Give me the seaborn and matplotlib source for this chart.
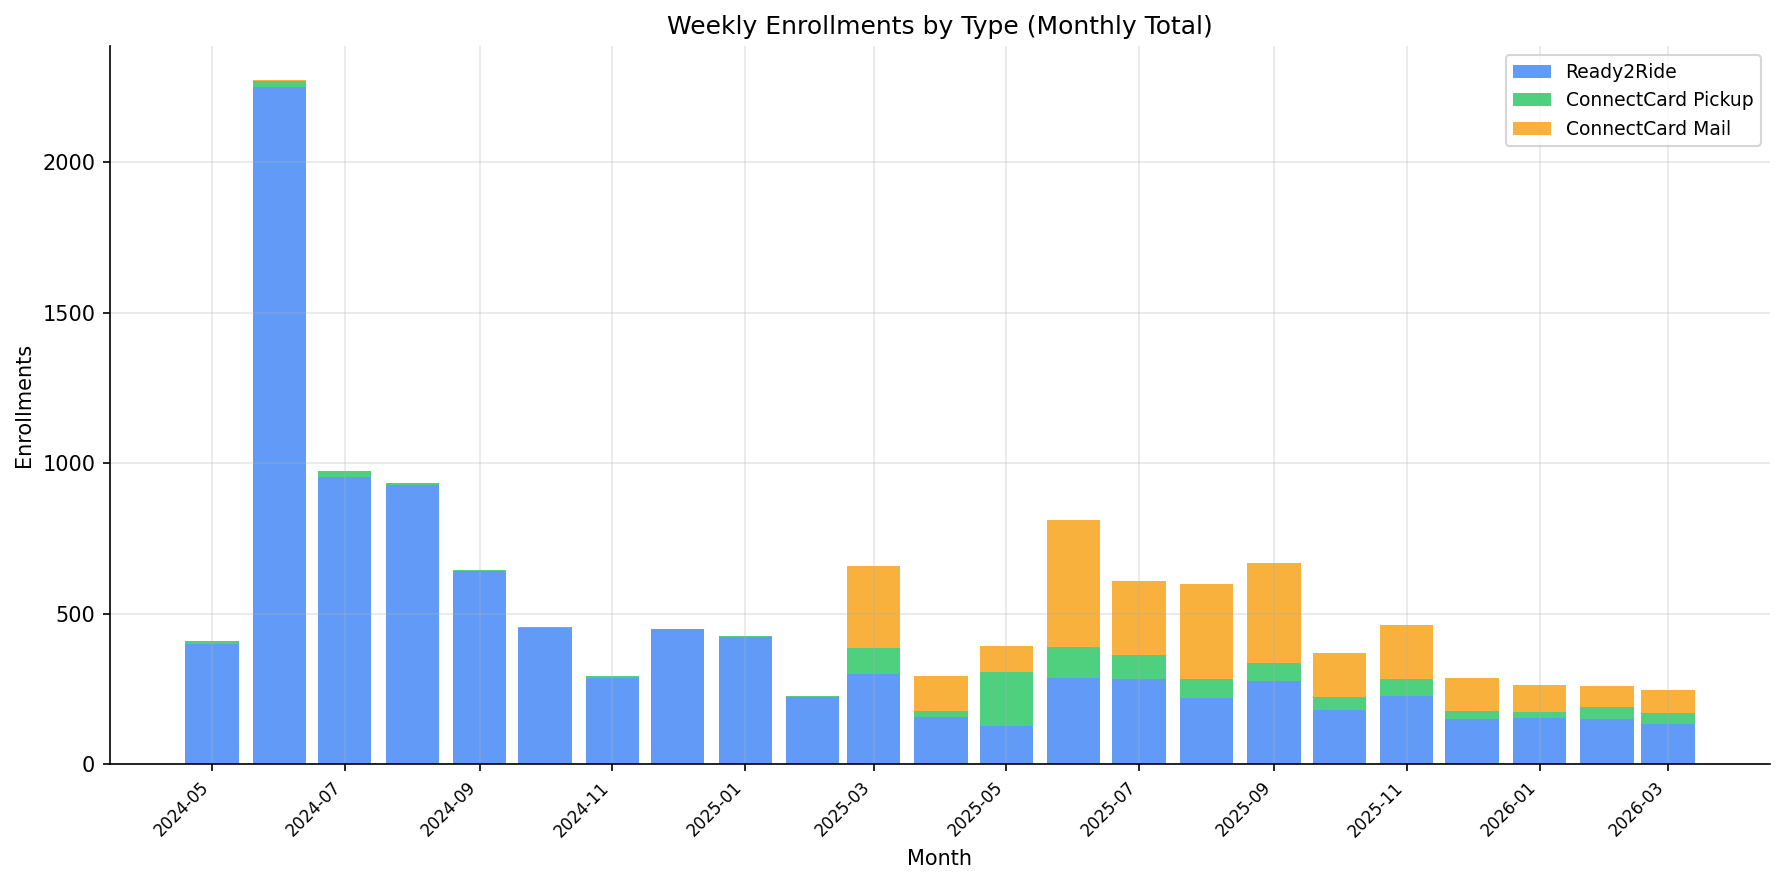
import pandas as pd
import seaborn as sns
import matplotlib
matplotlib.use("Agg")
import matplotlib.pyplot as plt
import matplotlib.dates as mdates

# Monthly totals
months = pd.date_range("2024-05-01", "2026-03-01", freq="MS")
ready2ride = [400, 2249, 955, 928, 640, 453, 285, 447, 422, 222, 300, 156,
              126, 287, 283, 221, 276, 181, 227, 150, 154, 150, 134]
cc_pickup = [8, 20, 18, 6, 3, 2, 6, 0, 2, 4, 86, 20,
             180, 102, 80, 62, 60, 42, 56, 26, 19, 40, 36]
cc_mail = [0, 3, 0, 0, 0, 0, 0, 0, 0, 0, 273, 117,
           87, 423, 246, 316, 333, 146, 179, 110, 90, 70, 76]

plt.rcParams['font.family'] = ['DejaVu Sans']

fig, ax = plt.subplots(figsize=(11.9, 5.9), dpi=150)
fig.subplots_adjust(left=0.0616, right=0.9916, bottom=0.1367, top=0.948)

w = 24.5
b2 = [a + b for a, b in zip(ready2ride, cc_pickup)]
ax.bar(months, ready2ride, width=w, color="#3b82f6", alpha=0.8, linewidth=0,
       label="Ready2Ride")
ax.bar(months, cc_pickup, width=w, bottom=ready2ride, color="#22c55e", alpha=0.8,
       linewidth=0, label="ConnectCard Pickup")
ax.bar(months, cc_mail, width=w, bottom=b2, color="#f59e0b", alpha=0.8,
       linewidth=0, label="ConnectCard Mail")

ax.xaxis.set_major_locator(mdates.MonthLocator(bymonth=[1, 3, 5, 7, 9, 11]))
ax.xaxis.set_major_formatter(mdates.DateFormatter("%Y-%m"))
plt.setp(ax.get_xticklabels(), rotation=45, ha="right", fontsize=8)
ax.tick_params(axis="y", labelsize=10)

ax.grid(True, alpha=0.3)
sns.despine(ax=ax)

ax.set_title("Weekly Enrollments by Type (Monthly Total)", fontsize=12)
ax.set_xlabel("Month", fontsize=10)
ax.set_ylabel("Enrollments", fontsize=10)
ax.legend(loc="upper right", fontsize=9)

fig.savefig("out.png", dpi=150)
